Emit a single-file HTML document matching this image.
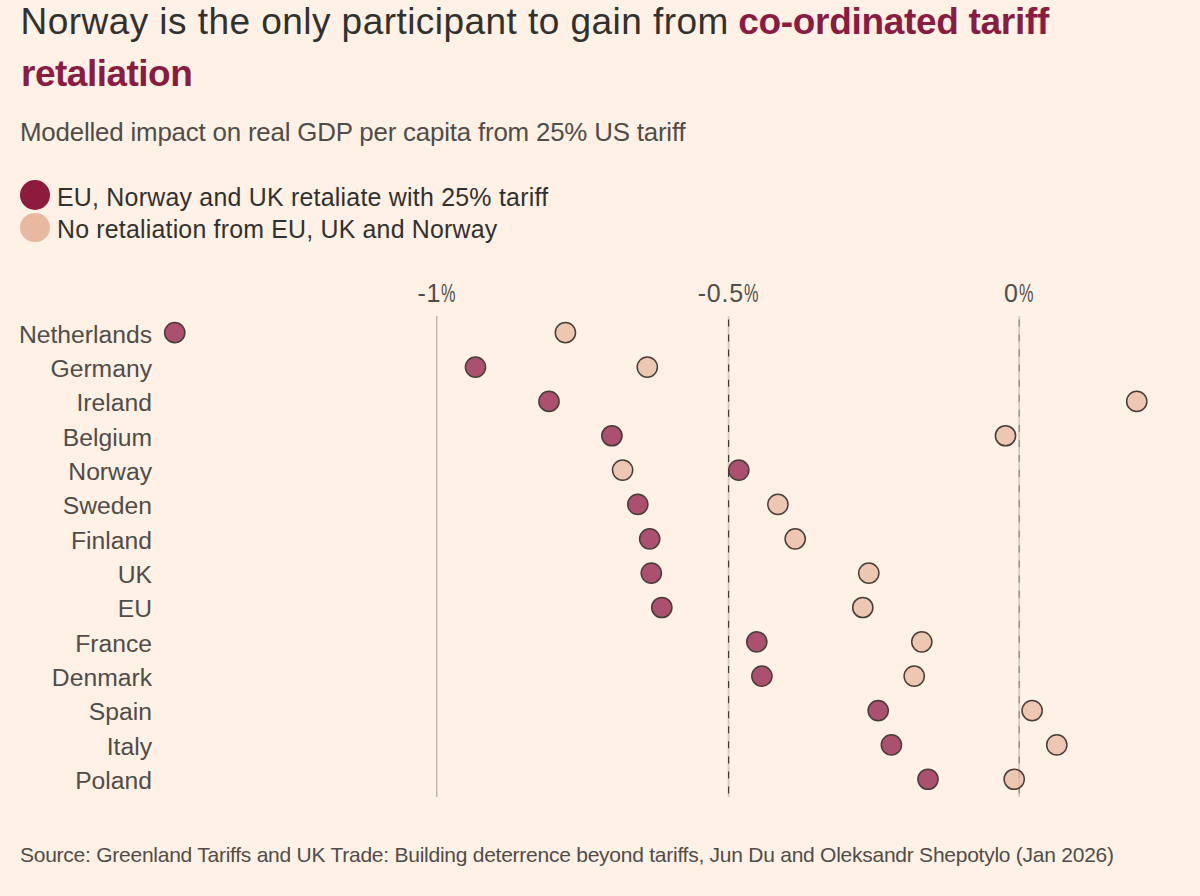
<!DOCTYPE html>
<html><head><meta charset="utf-8">
<style>
html,body{margin:0;padding:0;}
body{width:1200px;height:896px;background:#fff1e5;position:relative;overflow:hidden;font-family:"Liberation Sans",sans-serif;}
.t{position:absolute;white-space:nowrap;}
#title1{top:3.28px;font-size:37px;line-height:37px;letter-spacing:0.45px;left:20.5px;color:#33302e}
#title1 b{color:#8a1c42;font-weight:bold;font-size:37px;letter-spacing:-0.3px;margin-left:-1.4px}
#title2{top:55.18px;font-size:37px;line-height:37px;letter-spacing:-0.5px;left:21px;color:#8a1c42;font-weight:bold}
#sub{top:119.88px;font-size:25.9px;line-height:25.9px;letter-spacing:-0.2px;left:20px;color:#524c48}
#leg1{top:184.72px;font-size:24.9px;line-height:24.9px;letter-spacing:0.24px;left:57px;color:#33302e}
#leg2{top:216.72px;font-size:24.9px;line-height:24.9px;letter-spacing:0.2px;left:57px;color:#33302e}
.ld{position:absolute;left:20px;width:30px;height:30px;border-radius:50%}
.lab{position:absolute;right:1048px;font-size:24.7px;line-height:24.7px;color:#524c48;white-space:nowrap;letter-spacing:0px}
.ax{position:absolute;top:280.84px;font-size:25px;line-height:25px;color:#524c48;white-space:nowrap;text-align:center;width:200px;letter-spacing:0.8px}
.pc{display:inline-block;transform:scaleX(0.65);transform-origin:0 50%;margin-right:-7.8px}
#src{top:843.92px;font-size:21px;line-height:21px;letter-spacing:-0.25px;left:20px;color:#524c48}
svg{position:absolute;left:0;top:0}
.dk{fill:#8f1a45;fill-opacity:0.75;stroke:#4a3d38;stroke-width:1.5}
.lt{fill:#e8b8a0;fill-opacity:0.75;stroke:#4a3d38;stroke-width:1.5}
</style></head><body>
<div class="t" id="title1">Norway is the only participant to gain from <b>co-ordinated tariff</b></div>
<div class="t" id="title2">retaliation</div>
<div class="t" id="sub">Modelled impact on real GDP per capita from 25% US tariff</div>
<div class="ld" style="top:180.2px;left:20px;width:30.2px;height:30.2px;background:#8e1a3e"></div>
<div class="t" id="leg1">EU, Norway and UK retaliate with 25% tariff</div>
<div class="ld" style="top:212.5px;left:20px;width:29.5px;height:29.5px;background:#e8b8a0"></div>
<div class="t" id="leg2">No retaliation from EU, UK and Norway</div>
<div class="ax" style="left:337px">-1<span class="pc">%</span></div>
<div class="ax" style="left:628.5px">-0.5<span class="pc">%</span></div>
<div class="ax" style="left:919px">0<span class="pc">%</span></div>
<div class="lab" style="top:322.59px">Netherlands</div><div class="lab" style="top:356.94px">Germany</div><div class="lab" style="top:391.29px">Ireland</div><div class="lab" style="top:425.64px">Belgium</div><div class="lab" style="top:459.99px">Norway</div><div class="lab" style="top:494.34px">Sweden</div><div class="lab" style="top:528.69px">Finland</div><div class="lab" style="top:563.04px">UK</div><div class="lab" style="top:597.39px">EU</div><div class="lab" style="top:631.74px">France</div><div class="lab" style="top:666.09px">Denmark</div><div class="lab" style="top:700.44px">Spain</div><div class="lab" style="top:734.79px">Italy</div><div class="lab" style="top:769.14px">Poland</div>
<svg width="1200" height="896" viewBox="0 0 1200 896">
<line x1="436.8" y1="316" x2="436.8" y2="797" stroke="#a89d95" stroke-width="1.0"/>
<line x1="728.6" y1="316" x2="728.6" y2="797" stroke="#d6cbc1" stroke-width="1.8"/>
<line x1="728.6" y1="316" x2="728.6" y2="797" stroke="#3a3330" stroke-width="1.1" stroke-dasharray="7 8.07" stroke-dashoffset="-3.4"/>
<line x1="1019.2" y1="316" x2="1019.2" y2="797" stroke="#d6cbc1" stroke-width="1.8"/>
<line x1="1019.2" y1="316" x2="1019.2" y2="797" stroke="#8a7f78" stroke-width="1.1" stroke-dasharray="7 8.07" stroke-dashoffset="-3.4"/>
<circle class="lt" cx="565.4" cy="332.70" r="10.1"/><circle class="dk" cx="174.75" cy="332.70" r="10.1"/><circle class="lt" cx="647.3" cy="367.05" r="10.1"/><circle class="dk" cx="475.5" cy="367.05" r="10.1"/><circle class="lt" cx="1136.75" cy="401.40" r="10.1"/><circle class="dk" cx="549" cy="401.40" r="10.1"/><circle class="lt" cx="1005.5" cy="435.75" r="10.1"/><circle class="dk" cx="611.9" cy="435.75" r="10.1"/><circle class="lt" cx="622.6" cy="470.10" r="10.1"/><circle class="dk" cx="738.8" cy="470.10" r="10.1"/><circle class="lt" cx="777.9" cy="504.45" r="10.1"/><circle class="dk" cx="637.8" cy="504.45" r="10.1"/><circle class="lt" cx="795.2" cy="538.80" r="10.1"/><circle class="dk" cx="649.7" cy="538.80" r="10.1"/><circle class="lt" cx="868.8" cy="573.15" r="10.1"/><circle class="dk" cx="651.3" cy="573.15" r="10.1"/><circle class="lt" cx="862.8" cy="607.50" r="10.1"/><circle class="dk" cx="661.8" cy="607.50" r="10.1"/><circle class="lt" cx="921.8" cy="641.85" r="10.1"/><circle class="dk" cx="756.8" cy="641.85" r="10.1"/><circle class="lt" cx="914.2" cy="676.20" r="10.1"/><circle class="dk" cx="761.9" cy="676.20" r="10.1"/><circle class="lt" cx="1032.1" cy="710.55" r="10.1"/><circle class="dk" cx="878.2" cy="710.55" r="10.1"/><circle class="lt" cx="1056.8" cy="744.90" r="10.1"/><circle class="dk" cx="891.4" cy="744.90" r="10.1"/><circle class="lt" cx="1014.2" cy="779.25" r="10.1"/><circle class="dk" cx="928" cy="779.25" r="10.1"/>
</svg>
<div class="t" id="src">Source: Greenland Tariffs and UK Trade: Building deterrence beyond tariffs, Jun Du and Oleksandr Shepotylo (Jan 2026)</div>
</body></html>
